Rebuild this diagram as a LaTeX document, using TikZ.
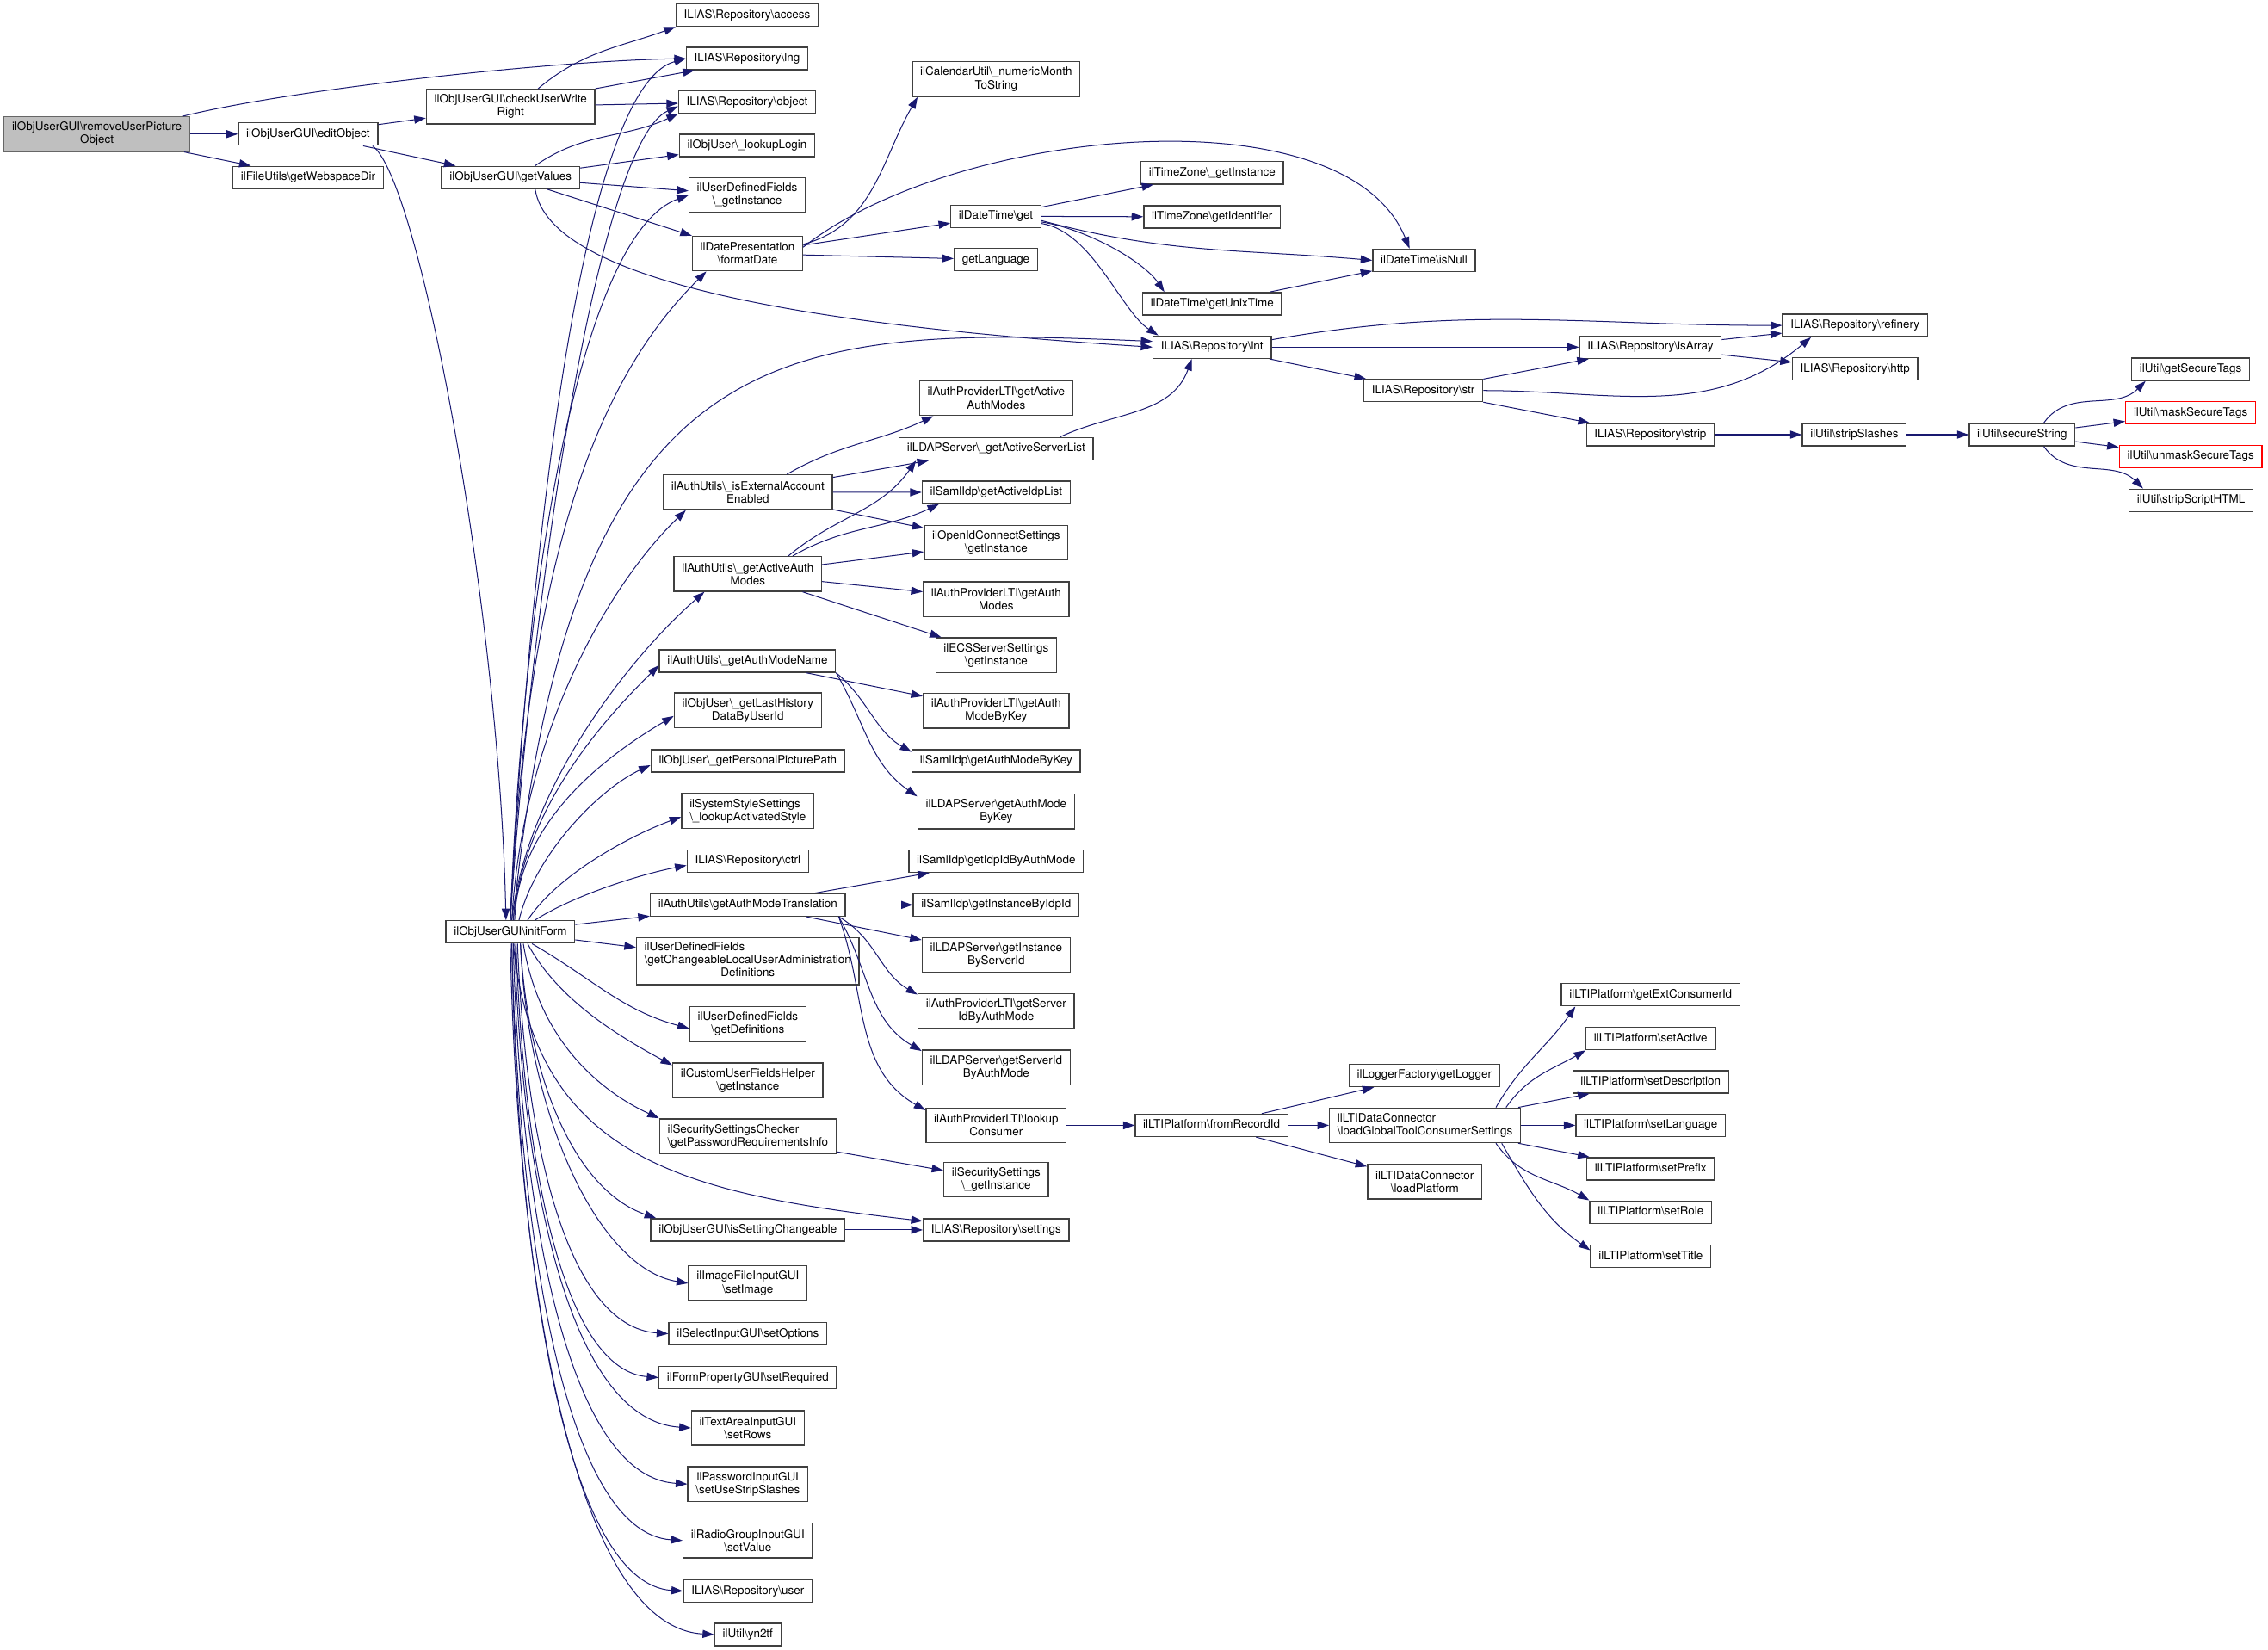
\documentclass[tikz,border=0pt]{standalone}
\usepackage{fontspec}
\setmainfont{TeX Gyre Heros}
\usetikzlibrary{arrows.meta}
\definecolor{edgeblue}{HTML}{191970}
\newcommand{\bsl}{\textbackslash}

\tikzset{
  fnbase/.style={draw=black!75, line width=0.8pt, fill=white, font=\fontsize{8}{9}\selectfont, inner xsep=5.5pt, inner ysep=1pt},
  fn/.style={fnbase, minimum height=15.5pt, text height=5.9pt, text depth=1.7pt},
  fntwo/.style={fnbase, minimum height=24pt, align=center},
  fnthree/.style={fnbase, minimum height=32.5pt},
  root/.style={fntwo, fill=black!25, draw=black!60},
  undoc/.style={fn, draw=red},
  call/.style={draw=edgeblue, line width=0.6pt, -{Triangle[length=8pt,width=5.5pt]}},
}

\begin{document}
\begin{tikzpicture}[x=1pt,y=1pt]
\useasboundingbox (0,0) rectangle (1568,-1140.7);

% callers on the left
\node[root] (rup) at (67,-92.7) {ilObjUserGUI\bsl removeUserPicture\\Object};
\node[fn] (edit) at (213,-92.7) {ilObjUserGUI\bsl editObject};
\node[fn] (webspace) at (213,-122.7) {ilFileUtils\bsl getWebspaceDir};
\node[fntwo] (check) at (353,-73.7) {ilObjUserGUI\bsl checkUserWrite\\Right};
\node[fn] (gv) at (353,-122.7) {ilObjUserGUI\bsl getValues};
\node[fn] (init) at (352.8,-644.3) {ilObjUserGUI\bsl initForm};

% column 3
\node[fn] (access) at (516.5,-10.5) {ILIAS\bsl Repository\bsl access};
\node[fn] (lng) at (516.5,-40.5) {ILIAS\bsl Repository\bsl lng};
\node[fn] (object) at (516.5,-70.5) {ILIAS\bsl Repository\bsl object};
\node[fn] (login) at (516.5,-100.5) {ilObjUser\bsl\_lookupLogin};
\node[fntwo] (udf) at (516.5,-135) {ilUserDefinedFields\\\bsl\_getInstance};
\node[fntwo] (fmt) at (516.8,-175.3) {ilDatePresentation\\\bsl formatDate};
\node[fntwo] (isext) at (517,-340.3) {ilAuthUtils\bsl\_isExternalAccount\\Enabled};
\node[fntwo] (gaam) at (517,-396.8) {ilAuthUtils\bsl\_getActiveAuth\\Modes};
\node[fn] (gamn) at (516.8,-457) {ilAuthUtils\bsl\_getAuthModeName};
\node[fntwo] (history) at (517,-491) {ilObjUser\bsl\_getLastHistory\\DataByUserId};
\node[fn] (picture) at (517,-526) {ilObjUser\bsl\_getPersonalPicturePath};
\node[fntwo, align=left] (style) at (517,-560.7) {ilSystemStyleSettings\\\bsl\_lookupActivatedStyle};
\node[fn] (ctrl) at (517,-595.3) {ILIAS\bsl Repository\bsl ctrl};
\node[fn] (gamt) at (517,-625.6) {ilAuthUtils\bsl getAuthModeTranslation};
\node[fnthree] (changeable) at (517,-664.4) {\begin{tabular}{@{}l@{}}ilUserDefinedFields\\\bsl getChangeableLocalUserAdministration\\\multicolumn{1}{@{}c@{}}{Definitions}\end{tabular}};
\node[fntwo] (defs) at (517,-708) {ilUserDefinedFields\\\bsl getDefinitions};
\node[fntwo] (cufh) at (517,-746.8) {ilCustomUserFieldsHelper\\\bsl getInstance};
\node[fntwo, align=left] (pwchecker) at (517,-785.5) {ilSecuritySettingsChecker\\\bsl getPasswordRequirementsInfo};
\node[fn] (isc) at (517,-850.3) {ilObjUserGUI\bsl isSettingChangeable};
\node[fntwo] (setimage) at (517,-887.2) {ilImageFileInputGUI\\\bsl setImage};
\node[fn] (setoptions) at (517,-922.1) {ilSelectInputGUI\bsl setOptions};
\node[fn] (setrequired) at (517,-952.4) {ilFormPropertyGUI\bsl setRequired};
\node[fntwo] (setrows) at (517,-987.2) {ilTextAreaInputGUI\\\bsl setRows};
\node[fntwo] (setslashes) at (517,-1026) {ilPasswordInputGUI\\\bsl setUseStripSlashes};
\node[fntwo] (setvalue) at (517,-1065) {ilRadioGroupInputGUI\\\bsl setValue};
\node[fn] (user) at (517,-1100) {ILIAS\bsl Repository\bsl user};
\node[fn] (yn2tf) at (517,-1130) {ilUtil\bsl yn2tf};

% column 4
\node[fntwo] (nm) at (688.7,-54.7) {ilCalendarUtil\bsl\_numericMonth\\ToString};
\node[fn] (dtget) at (688.5,-149.5) {ilDateTime\bsl get};
\node[fn] (lang) at (688.5,-179.5) {getLanguage};
\node[fntwo] (ltiactive) at (688.7,-275.3) {ilAuthProviderLTI\bsl getActive\\AuthModes};
\node[fn] (serverlist) at (688.7,-310.3) {ilLDAPServer\bsl\_getActiveServerList};
\node[fn] (idplist) at (688.7,-340.4) {ilSamlIdp\bsl getActiveIdpList};
\node[fntwo] (oidc) at (688.7,-375.2) {ilOpenIdConnectSettings\\\bsl getInstance};
\node[fntwo] (ltimodes) at (688.7,-414.3) {ilAuthProviderLTI\bsl getAuth\\Modes};
\node[fntwo] (ecs) at (688.7,-453) {ilECSServerSettings\\\bsl getInstance};
\node[fntwo] (ltibykey) at (688.7,-491.5) {ilAuthProviderLTI\bsl getAuth\\ModeByKey};
\node[fn] (samlbykey) at (688.7,-526) {ilSamlIdp\bsl getAuthModeByKey};
\node[fntwo] (ldapbykey) at (688.7,-561) {ilLDAPServer\bsl getAuthMode\\ByKey};
\node[fn] (idpid) at (688.7,-595.3) {ilSamlIdp\bsl getIdpIdByAuthMode};
\node[fn] (idpinst) at (688.7,-625.6) {ilSamlIdp\bsl getInstanceByIdpId};
\node[fntwo] (ldapinst) at (688.7,-660.2) {ilLDAPServer\bsl getInstance\\ByServerId};
\node[fntwo] (ltiserver) at (688.7,-699) {ilAuthProviderLTI\bsl getServer\\IdByAuthMode};
\node[fntwo] (ldapserver) at (688.7,-738) {ilLDAPServer\bsl getServerId\\ByAuthMode};
\node[fntwo] (lookup) at (688.7,-778) {ilAuthProviderLTI\bsl lookup\\Consumer};
\node[fntwo] (secinst) at (688.7,-815.6) {ilSecuritySettings\\\bsl\_getInstance};
\node[fn] (settings) at (688.7,-850.3) {ILIAS\bsl Repository\bsl settings};

% column 5 and 6
\node[fn] (tzinst) at (838,-119.5) {ilTimeZone\bsl\_getInstance};
\node[fn] (tzid) at (838,-150) {ilTimeZone\bsl getIdentifier};
\node[fn] (unix) at (838,-210) {ilDateTime\bsl getUnixTime};
\node[fn] (int) at (838,-240) {ILIAS\bsl Repository\bsl int};
\node[fn] (fromrecord) at (837.6,-778) {ilLTIPlatform\bsl fromRecordId};
\node[fn] (isnull) at (984.5,-180) {ilDateTime\bsl isNull};
\node[fn] (str) at (984,-270) {ILIAS\bsl Repository\bsl str};
\node[fn] (logger) at (984.7,-743.5) {ilLoggerFactory\bsl getLogger};
\node[fntwo, align=left] (loadglobal) at (985.2,-778) {ilLTIDataConnector\\\bsl loadGlobalToolConsumerSettings};
\node[fntwo] (loadplatform) at (985,-817) {ilLTIDataConnector\\\bsl loadPlatform};

% right part
\node[fn] (isarray) at (1141,-240) {ILIAS\bsl Repository\bsl isArray};
\node[fn] (strip) at (1141,-300.5) {ILIAS\bsl Repository\bsl strip};
\node[fn] (extid) at (1141.2,-687.7) {ilLTIPlatform\bsl getExtConsumerId};
\node[fn] (setactive) at (1141.2,-718) {ilLTIPlatform\bsl setActive};
\node[fn] (setdesc) at (1141.2,-748) {ilLTIPlatform\bsl setDescription};
\node[fn] (setlang) at (1141.2,-778) {ilLTIPlatform\bsl setLanguage};
\node[fn] (setprefix) at (1141.2,-808) {ilLTIPlatform\bsl setPrefix};
\node[fn] (setrole) at (1141.2,-838) {ilLTIPlatform\bsl setRole};
\node[fn] (settitle) at (1141.2,-868.5) {ilLTIPlatform\bsl setTitle};
\node[fn] (refinery) at (1282.5,-225) {ILIAS\bsl Repository\bsl refinery};
\node[fn] (http) at (1282.5,-255) {ILIAS\bsl Repository\bsl http};
\node[fn] (slashes) at (1282,-300.5) {ilUtil\bsl stripSlashes};
\node[fn] (secure) at (1398,-300.5) {ilUtil\bsl secureString};
\node[fn] (gettags) at (1514.5,-255.3) {ilUtil\bsl getSecureTags};
\node[undoc] (mask) at (1514.5,-285.5) {ilUtil\bsl maskSecureTags};
\node[undoc] (unmask) at (1514.5,-315.6) {ilUtil\bsl unmaskSecureTags};
\node[fn] (striphtml) at (1514.8,-345.9) {ilUtil\bsl stripScriptHTML};

% removeUserPictureObject
\draw[call] (rup) -- (edit);
\draw[call] (rup) -- (webspace);
\draw[call] ([xshift=-5pt]rup.north east) .. controls (200,-62) and (380,-42) .. (lng.west);
% editObject
\draw[call] (edit) -- (check);
\draw[call] (edit) -- (gv);
\draw[call] ([xshift=-4pt]edit.south east) .. controls (290,-125) and (345,-420) .. ([xshift=-3pt]init.north);
% checkUserWriteRight
\draw[call] ([xshift=19pt]check.north) to[out=40,in=200] (access.south west);
\draw[call] (check.north east) -- ([xshift=6pt]lng.south west);
\draw[call] (check) -- (object);
% getValues
\draw[call] ([xshift=17pt]gv.north) to[out=35,in=205] (object.south west);
\draw[call] (gv) -- (login);
\draw[call] (gv) -- (udf);
\draw[call] (gv) -- (fmt);
\draw[call] ([xshift=17pt]gv.south) .. controls (380,-195) and (560,-225) .. (int.west);
% formatDate
\draw[call] ([yshift=-6pt]fmt.north east) to[out=15,in=240] ([xshift=4pt]nm.south west);
\draw[call] ([yshift=-8pt]fmt.north east) .. controls (660,-88) and (930,-62) .. ([xshift=-10pt]isnull.north);
\draw[call] (fmt) -- (dtget);
\draw[call] (fmt) -- (lang);
% ilDateTime get
\draw[call] (dtget) -- (tzinst);
\draw[call] (dtget) -- (tzid);
\draw[call] ([yshift=-3pt]dtget.east) to[out=-15,in=175] (isnull.west);
\draw[call] ([yshift=-4pt]dtget.east) .. controls (750,-158) and (790,-180) .. ([xshift=-33pt]unix.north);
\draw[call] ([yshift=-5pt]dtget.east) .. controls (755,-160) and (775,-215) .. ([xshift=4pt]int.north west);
\draw[call] (unix) -- (isnull);
% repository helpers
\draw[call] ([yshift=-3pt]int.north east) to[out=10,in=180] (refinery.west);
\draw[call] (int) -- (isarray);
\draw[call] (int) -- (str);
\draw[call] (isarray) -- (refinery);
\draw[call] (isarray) -- (http);
\draw[call] (str) -- (isarray);
\draw[call] (str.east) to[out=0,in=220] ([xshift=20pt]refinery.south west);
\draw[call] (str) -- (strip);
\draw[call] (strip) -- (slashes);
\draw[call] (slashes) -- (secure);
\draw[call] ([xshift=15pt]secure.north) to[out=55,in=225] ([xshift=10pt]gettags.south west);
\draw[call] (secure) -- (mask);
\draw[call] (secure) -- (unmask);
\draw[call] ([xshift=15pt]secure.south) to[out=-55,in=135] ([xshift=10pt]striphtml.north west);
% auth utils
\draw[call] ([xshift=44pt]serverlist.north) to[out=25,in=250] ([xshift=-14pt]int.south);
\draw[call] ([xshift=27pt]isext.north) to[out=30,in=205] ([xshift=10pt]ltiactive.south west);
\draw[call] (isext) -- (serverlist);
\draw[call] (isext) -- (idplist);
\draw[call] (isext) -- (oidc);
\draw[call] ([xshift=28pt]gaam.north) to[out=40,in=235] ([xshift=12pt]serverlist.south west);
\draw[call] ([xshift=31pt]gaam.north) to[out=30,in=205] ([xshift=12pt]idplist.south west);
\draw[call] (gaam) -- (oidc);
\draw[call] (gaam) -- (ltimodes);
\draw[call] (gaam) -- (ecs);
\draw[call] (gamn) -- (ltibykey);
\draw[call] (gamn.south east) to[out=-40,in=150] ([yshift=-2pt]samlbykey.north west);
\draw[call] (gamn.south east) to[out=-60,in=145] ([yshift=-2pt]ldapbykey.north west);
\draw[call] (gamt) -- (idpid);
\draw[call] (gamt) -- (idpinst);
\draw[call] (gamt) -- (ldapinst);
\draw[call] ([xshift=-5pt]gamt.south east) to[out=-30,in=150] ([yshift=-1pt]ltiserver.north west);
\draw[call] ([xshift=-5pt]gamt.south east) to[out=-60,in=150] ([yshift=-1pt]ldapserver.north west);
\draw[call] ([xshift=-5pt]gamt.south east) to[out=-70,in=150] ([yshift=-2pt]lookup.north west);
% LTI platform
\draw[call] (lookup) -- (fromrecord);
\draw[call] (fromrecord) -- (logger);
\draw[call] (fromrecord) -- (loadglobal);
\draw[call] (fromrecord) -- (loadplatform);
\draw[call] ([xshift=49pt]loadglobal.north) to[out=60,in=235] ([xshift=10pt]extid.south west);
\draw[call] ([xshift=56pt]loadglobal.north) to[out=55,in=210] (setactive.south west);
\draw[call] (loadglobal) -- (setdesc);
\draw[call] (loadglobal) -- (setlang);
\draw[call] (loadglobal) -- (setprefix);
\draw[call] ([xshift=49pt]loadglobal.south) to[out=-55,in=150] (setrole.north west);
\draw[call] ([xshift=53pt]loadglobal.south) to[out=-60,in=145] ([yshift=-4pt]settitle.north west);
% security settings
\draw[call] (pwchecker) -- (secinst);
\draw[call] (isc) -- (settings);

% initForm, upwards
\draw[call] (init.north) .. controls (365,-400) and (400,-60.5) .. (lng.west);
\draw[call] (init.north) .. controls (367,-417) and (413,-98.5) .. ([yshift=-3pt]object.west);
\draw[call] (init.north) .. controls (363,-377) and (406,-160) .. (udf.west);
\draw[call] (init.north) .. controls (365,-380) and (415,-260) .. ([xshift=10pt]fmt.south west);
\draw[call] ([xshift=2pt]init.north) .. controls (395,-230) and (540,-225) .. ([yshift=4pt]int.west);
\draw[call] ([xshift=1pt]init.north) .. controls (362,-500) and (425,-400) .. ([xshift=16pt]isext.south west);
\draw[call] ([xshift=1pt]init.north) .. controls (365,-540) and (440,-450) .. ([xshift=-30pt]gaam.south);
\draw[call] ([xshift=2pt]init.north) .. controls (362,-560) and (415,-500) .. ([yshift=-3pt]gamn.west);
\draw[call] ([xshift=3pt]init.north) .. controls (358,-570) and (415,-525) .. ([yshift=-4pt]history.west);
\draw[call] ([xshift=6pt]init.north) .. controls (370,-590) and (415,-545) .. ([yshift=-3pt]picture.west);
\draw[call] ([xshift=12pt]init.north) .. controls (385,-605) and (435,-578) .. ([yshift=-4pt]style.west);
\draw[call] ([xshift=17pt]init.north) .. controls (395,-620) and (440,-605) .. ([yshift=-3pt]ctrl.west);
\draw[call] (init) -- (gamt);
% initForm, downwards
\draw[call] (init) -- (changeable);
\draw[call] ([xshift=15pt]init.south) to[out=-30,in=165] ([yshift=-3pt]defs.west);
\draw[call] ([xshift=12pt]init.south) .. controls (385,-690) and (425,-715) .. ([yshift=-2pt]cufh.north west);
\draw[call] ([xshift=9pt]init.south) .. controls (372,-715) and (410,-752) .. (pwchecker.north west);
\draw[call] ([xshift=2pt]init.south) .. controls (370,-800) and (470,-825) .. ([yshift=-2pt]settings.north west);
\draw[call] ([xshift=7pt]init.south) .. controls (365,-747) and (398,-823) .. ([xshift=4pt]isc.north west);
\draw[call] ([xshift=7pt]init.south) .. controls (365,-773) and (414,-877) .. (setimage.west);
\draw[call] ([xshift=5pt]init.south) .. controls (363,-791) and (392,-917) .. (setoptions.west);
\draw[call] ([xshift=4pt]init.south) .. controls (362,-808) and (390,-947) .. (setrequired.west);
\draw[call] ([xshift=3pt]init.south) .. controls (361,-826) and (396,-982) .. (setrows.west);
\draw[call] ([xshift=2pt]init.south) .. controls (360,-846) and (394,-1021) .. (setslashes.west);
\draw[call] ([xshift=1pt]init.south) .. controls (359,-867) and (393,-1060) .. (setvalue.west);
\draw[call] ([xshift=1pt]init.south) .. controls (358,-885) and (393,-1095) .. (user.west);
\draw[call] (init.south) .. controls (358,-900) and (400,-1125) .. (yn2tf.west);
\end{tikzpicture}
\end{document}
